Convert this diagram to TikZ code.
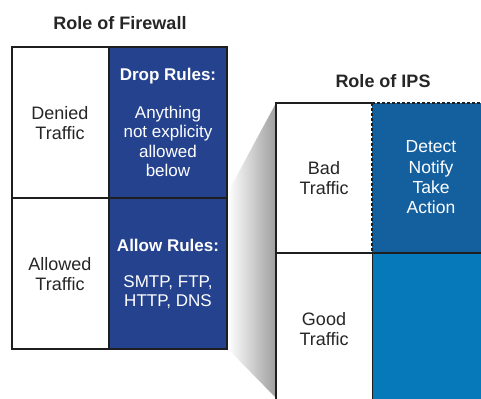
\documentclass[tikz,border=0pt]{standalone}
\usepackage{fontspec}
\setmainfont{Liberation Sans}
\definecolor{fwblue}{HTML}{25428F}
\definecolor{ipstop}{HTML}{14609F}
\definecolor{ipsbot}{HTML}{0679BA}
\definecolor{edge}{HTML}{1E1E1E}
\definecolor{txt}{HTML}{262626}
\begin{document}
\begin{tikzpicture}[x=1bp,y=-1bp,
  title/.style={font=\fontsize{18bp}{20bp}\selectfont\bfseries, text=txt, inner sep=0pt},
  dark/.style={font=\fontsize{18bp}{20bp}\selectfont, text=txt, align=center, inner sep=0pt},
  light/.style={font=\fontsize{17bp}{19.5bp}\selectfont, text=white, align=center, inner sep=0pt},
  lightb/.style={font=\fontsize{17bp}{19.5bp}\selectfont\bfseries, text=white, align=center, inner sep=0pt},
  border/.style={draw=edge, line width=1.6bp},
  dashborder/.style={draw=edge, line width=1.6bp, dash pattern=on 3bp off 2bp}]
\clip (0,0) rectangle (481,398);
\fill[white] (0,0) rectangle (481,398);
% shadow
\shade[left color=white, right color=black!38] (228,192) -- (276,103) -- (276,398) -- (228,349) -- cycle;
% firewall
\fill[white] (12,47) rectangle (109,349);
\fill[fwblue] (109,47) rectangle (227,349);
\draw[border] (12,47) rectangle (227,349);
\draw[border] (109,47) -- (109,349);
\draw[border] (12,198) -- (227,198);
% IPS
\fill[white] (276,103) rectangle (372,410);
\fill[ipstop] (372,103) rectangle (495,253);
\fill[ipsbot] (372,253) rectangle (495,410);
\draw[border] (276,410) -- (276,103) -- (372,103);
\draw[dashborder] (372,103) -- (495,103);
\draw[dashborder] (372,103) -- (372,253);
\draw[border] (276,253) -- (495,253);
\draw[draw=edge, line width=0.8bp] (372,253) -- (372,410);
% titles
\node[title] (t1) at (120,23) {Role of Firewall};
\node[title] (t2) at (383,81) {Role of IPS};
% firewall texts
\node[dark] (denied) at (60,123) {Denied\\Traffic};
\node[dark] (allowed) at (60,274) {Allowed\\Traffic};
\node[lightb] (drop) at (168,76) {Drop Rules:};
\node[light] (dropt) at (168,141.5) {Anything\\not explicity\\allowed\\below};
\node[lightb] (allow) at (168,245) {Allow Rules:};
\node[light] (allowt) at (168,292) {SMTP, FTP,\\HTTP, DNS};
% IPS texts
\node[dark] (bad) at (324,178) {Bad\\Traffic};
\node[dark] (good) at (324,329) {Good\\Traffic};
\node[light, font=\fontsize{17.5bp}{20.3bp}\selectfont] (detect) at (431,177.5) {Detect\\Notify\\Take\\Action};
\end{tikzpicture}
\end{document}
